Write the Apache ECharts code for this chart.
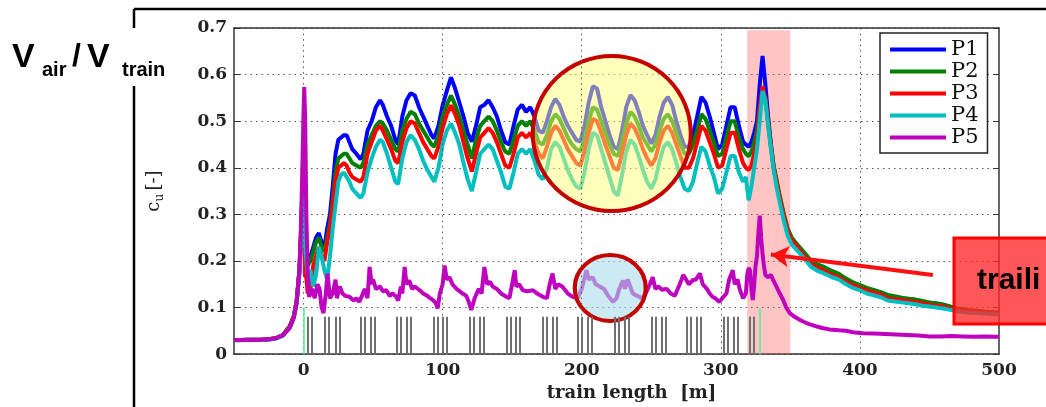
<!DOCTYPE html>
<html>
<head>
<meta charset="utf-8">
<script src="https://cdn.jsdelivr.net/npm/echarts@6/dist/echarts.min.js"></script>
<style>
  html, body { margin: 0; padding: 0; background: #fff; }
  #main { width: 1046px; height: 407px; }
</style>
</head>
<body>
<div id="main"></div>
<script>
// positions along the train [m], shared by P1..P4
const xMain = [
  -50, -40, -30, -25, -20, -15, -10, -7, -5, -3, -2, -1, 0, 1, 2, 3, 5, 7, 9, 11, 13, 15, 17, 19,
  21, 23, 25, 27, 29, 31, 33, 35, 38, 41, 43, 46, 49, 52, 55, 57, 60, 63, 66, 68,
  71, 74, 77, 80, 83, 86, 89, 92, 94, 97, 100, 103, 106, 109, 112, 115, 118, 121, 124, 127,
  130, 133, 136, 139, 142, 145, 148, 151, 154, 157, 160, 163, 166, 169, 172, 175, 178, 181, 184, 187,
  190, 193, 196, 199, 202, 205, 208, 211, 214, 217, 220, 223, 226, 229, 232, 235, 238, 241, 244, 247,
  250, 253, 256, 259, 262, 265, 268, 271, 274, 277, 280, 283, 286, 289, 292, 295, 298, 301, 304, 307,
  310, 313, 316, 318, 320, 322, 324, 326, 328, 330, 332, 334, 336, 338, 340, 342, 345, 348, 351, 355,
  360, 365, 370, 375, 380, 385, 390, 395, 400, 405, 410, 415, 420, 425, 430, 435, 440, 445, 450, 455,
  460, 465, 470, 475, 480, 485, 490, 495, 500
];

const p1 = [
  0.030, 0.031, 0.031, 0.032, 0.034, 0.040, 0.058, 0.080, 0.110, 0.175, 0.240, 0.320, 0.370, 0.250, 0.200, 0.190, 0.210, 0.230, 0.250, 0.260, 0.240, 0.230, 0.270, 0.300,
  0.360, 0.430, 0.460, 0.465, 0.470, 0.470, 0.455, 0.440, 0.430, 0.418, 0.430, 0.480, 0.500, 0.530, 0.545, 0.535, 0.510, 0.490, 0.460, 0.450,
  0.510, 0.545, 0.560, 0.555, 0.530, 0.510, 0.490, 0.470, 0.463, 0.490, 0.534, 0.565, 0.594, 0.570, 0.540, 0.510, 0.475, 0.456, 0.490, 0.530,
  0.535, 0.545, 0.530, 0.510, 0.480, 0.455, 0.450, 0.490, 0.525, 0.535, 0.520, 0.530, 0.510, 0.480, 0.475, 0.500, 0.530, 0.548, 0.535, 0.510,
  0.490, 0.475, 0.460, 0.456, 0.490, 0.540, 0.575, 0.570, 0.530, 0.500, 0.470, 0.445, 0.440, 0.480, 0.530, 0.556, 0.545, 0.520, 0.490, 0.470,
  0.452, 0.470, 0.510, 0.540, 0.552, 0.535, 0.500, 0.470, 0.445, 0.445, 0.470, 0.510, 0.552, 0.540, 0.510, 0.475, 0.440, 0.450, 0.490, 0.530,
  0.530, 0.490, 0.456, 0.450, 0.445, 0.455, 0.475, 0.500, 0.580, 0.640, 0.580, 0.510, 0.450, 0.400, 0.370, 0.340, 0.300, 0.265, 0.245, 0.232,
  0.215, 0.197, 0.190, 0.184, 0.178, 0.170, 0.160, 0.152, 0.147, 0.140, 0.136, 0.132, 0.125, 0.122, 0.120, 0.118, 0.116, 0.113, 0.110, 0.108,
  0.106, 0.102, 0.097, 0.095, 0.093, 0.092, 0.090, 0.089, 0.088
];
const p2 = [
  0.030, 0.031, 0.031, 0.032, 0.034, 0.041, 0.060, 0.082, 0.115, 0.180, 0.250, 0.340, 0.385, 0.300, 0.220, 0.190, 0.200, 0.220, 0.240, 0.250, 0.230, 0.220, 0.250, 0.280,
  0.330, 0.390, 0.420, 0.425, 0.430, 0.430, 0.420, 0.410, 0.405, 0.400, 0.410, 0.450, 0.470, 0.490, 0.500, 0.495, 0.480, 0.460, 0.440, 0.435,
  0.480, 0.505, 0.520, 0.515, 0.495, 0.480, 0.465, 0.450, 0.445, 0.470, 0.510, 0.535, 0.555, 0.535, 0.510, 0.480, 0.450, 0.420, 0.460, 0.490,
  0.500, 0.510, 0.500, 0.480, 0.455, 0.435, 0.430, 0.460, 0.490, 0.500, 0.490, 0.500, 0.480, 0.455, 0.450, 0.470, 0.500, 0.515, 0.505, 0.485,
  0.465, 0.450, 0.440, 0.435, 0.460, 0.500, 0.530, 0.525, 0.500, 0.475, 0.450, 0.430, 0.425, 0.455, 0.495, 0.520, 0.510, 0.490, 0.465, 0.450,
  0.435, 0.450, 0.480, 0.505, 0.515, 0.500, 0.475, 0.450, 0.430, 0.430, 0.450, 0.480, 0.515, 0.505, 0.480, 0.455, 0.425, 0.430, 0.465, 0.500,
  0.500, 0.465, 0.440, 0.430, 0.425, 0.435, 0.455, 0.480, 0.530, 0.565, 0.550, 0.500, 0.450, 0.405, 0.375, 0.345, 0.305, 0.270, 0.250, 0.235,
  0.218, 0.200, 0.192, 0.186, 0.178, 0.172, 0.162, 0.154, 0.148, 0.142, 0.138, 0.133, 0.127, 0.124, 0.121, 0.119, 0.117, 0.114, 0.111, 0.109,
  0.106, 0.102, 0.098, 0.096, 0.094, 0.093, 0.091, 0.090, 0.089
];
const p3 = [
  0.030, 0.031, 0.031, 0.032, 0.034, 0.040, 0.059, 0.081, 0.112, 0.178, 0.245, 0.320, 0.360, 0.170, 0.165, 0.130, 0.140, 0.190, 0.210, 0.230, 0.210, 0.200, 0.240, 0.270,
  0.320, 0.370, 0.400, 0.405, 0.410, 0.405, 0.390, 0.380, 0.375, 0.370, 0.380, 0.430, 0.455, 0.480, 0.490, 0.480, 0.460, 0.440, 0.415, 0.410,
  0.455, 0.485, 0.500, 0.495, 0.475, 0.455, 0.440, 0.425, 0.420, 0.445, 0.485, 0.515, 0.534, 0.515, 0.490, 0.455, 0.420, 0.392, 0.430, 0.465,
  0.475, 0.485, 0.475, 0.455, 0.430, 0.405, 0.400, 0.430, 0.465, 0.475, 0.465, 0.475, 0.455, 0.430, 0.420, 0.445, 0.475, 0.490, 0.480, 0.460,
  0.440, 0.425, 0.410, 0.405, 0.435, 0.475, 0.505, 0.500, 0.475, 0.450, 0.425, 0.400, 0.395, 0.430, 0.470, 0.495, 0.485, 0.465, 0.440, 0.420,
  0.405, 0.420, 0.455, 0.480, 0.490, 0.475, 0.450, 0.425, 0.400, 0.400, 0.420, 0.455, 0.490, 0.480, 0.455, 0.430, 0.400, 0.405, 0.440, 0.475,
  0.475, 0.440, 0.410, 0.400, 0.395, 0.405, 0.430, 0.460, 0.530, 0.575, 0.550, 0.495, 0.445, 0.400, 0.370, 0.340, 0.300, 0.265, 0.245, 0.230,
  0.210, 0.192, 0.185, 0.178, 0.170, 0.165, 0.155, 0.148, 0.142, 0.137, 0.132, 0.128, 0.120, 0.118, 0.116, 0.114, 0.112, 0.109, 0.106, 0.104,
  0.102, 0.098, 0.095, 0.093, 0.092, 0.091, 0.089, 0.088, 0.087
];
const p4 = [
  0.029, 0.030, 0.030, 0.031, 0.033, 0.039, 0.056, 0.078, 0.108, 0.170, 0.230, 0.300, 0.340, 0.235, 0.200, 0.170, 0.180, 0.145, 0.170, 0.230, 0.210, 0.180, 0.160, 0.210,
  0.270, 0.320, 0.370, 0.385, 0.390, 0.380, 0.370, 0.355, 0.345, 0.335, 0.345, 0.390, 0.420, 0.445, 0.460, 0.455, 0.430, 0.400, 0.370, 0.365,
  0.420, 0.455, 0.470, 0.460, 0.440, 0.415, 0.395, 0.380, 0.370, 0.400, 0.450, 0.480, 0.495, 0.475, 0.450, 0.410, 0.375, 0.350, 0.390, 0.430,
  0.440, 0.450, 0.440, 0.415, 0.390, 0.360, 0.355, 0.390, 0.430, 0.440, 0.430, 0.440, 0.415, 0.385, 0.375, 0.400, 0.440, 0.455, 0.445, 0.420,
  0.395, 0.375, 0.360, 0.355, 0.390, 0.440, 0.475, 0.470, 0.440, 0.410, 0.380, 0.350, 0.340, 0.385, 0.435, 0.460, 0.450, 0.425, 0.395, 0.370,
  0.355, 0.375, 0.415, 0.445, 0.455, 0.440, 0.410, 0.380, 0.355, 0.350, 0.370, 0.410, 0.445, 0.435, 0.405, 0.380, 0.345, 0.355, 0.390, 0.425,
  0.425, 0.390, 0.370, 0.380, 0.330, 0.360, 0.400, 0.440, 0.500, 0.565, 0.545, 0.490, 0.440, 0.395, 0.360, 0.330, 0.290, 0.255, 0.235, 0.222,
  0.205, 0.187, 0.178, 0.172, 0.165, 0.160, 0.150, 0.142, 0.137, 0.130, 0.126, 0.122, 0.115, 0.113, 0.111, 0.109, 0.107, 0.104, 0.102, 0.100,
  0.098, 0.095, 0.092, 0.090, 0.089, 0.088, 0.087, 0.086, 0.085
];

// P5 has its own sampling (spiky signal)
const xP5 = [
  -50, -40, -30, -25, -20, -15, -10, -7, -5, -3,
  -2, -1, 0, 0.5, 1.2, 2, 3, 4, 6, 8,
  10, 11.5, 13, 14.4, 16, 17.3, 19, 21, 23, 24,
  26, 28, 30, 33, 36, 38, 40, 42, 44, 46,
  47.5, 49, 50, 52, 55, 57, 59.5, 62, 64, 66.7,
  68, 70, 71, 72.7, 74, 76, 78, 80, 83.5, 86,
  89, 91, 93, 95, 96.4, 98, 100, 101.4, 103, 105,
  107, 110, 114.4, 117, 119, 120.6, 123, 126, 128, 130,
  132, 134, 136, 139, 142, 145.8, 148, 150, 151.8, 153,
  155, 157.6, 161, 164.9, 168, 172, 175, 177, 179, 181,
  183, 186, 190, 193.5, 197, 200, 203.4, 205, 208, 210,
  213, 216, 219, 222.5, 225, 227, 229.6, 231, 233, 236.7,
  240, 243, 246, 249, 251, 253, 255, 258, 261, 264,
  267, 269, 270.5, 273, 275, 277, 280, 282, 285, 287,
  290, 292, 294, 296, 299, 301, 304, 306, 308.6, 310,
  312, 313.7, 316, 318, 319, 320, 321, 322, 323, 324,
  325, 326, 327, 328, 329, 330, 331, 332, 334, 336,
  337.5, 340, 342.4, 345, 347, 349.6, 353, 356, 359, 363,
  368, 373, 378, 385, 390, 395, 402, 410, 418, 426,
  434, 442, 450, 458, 466, 474, 482, 490, 498, 500
];
const p5 = [
  0.030, 0.030, 0.031, 0.032, 0.034, 0.040, 0.056, 0.078, 0.110, 0.180,
  0.260, 0.380, 0.520, 0.573, 0.500, 0.300, 0.170, 0.123, 0.140, 0.120,
  0.150, 0.140, 0.100, 0.088, 0.130, 0.173, 0.120, 0.130, 0.160, 0.120,
  0.145, 0.130, 0.125, 0.123, 0.115, 0.120, 0.112, 0.125, 0.140, 0.120,
  0.187, 0.150, 0.160, 0.140, 0.145, 0.135, 0.137, 0.125, 0.130, 0.123,
  0.115, 0.145, 0.130, 0.187, 0.150, 0.158, 0.140, 0.145, 0.137, 0.130,
  0.125, 0.120, 0.116, 0.110, 0.098, 0.130, 0.150, 0.190, 0.160, 0.165,
  0.150, 0.140, 0.130, 0.125, 0.110, 0.095, 0.120, 0.140, 0.130, 0.187,
  0.150, 0.155, 0.145, 0.140, 0.130, 0.123, 0.120, 0.150, 0.180, 0.145,
  0.150, 0.137, 0.135, 0.137, 0.130, 0.123, 0.120, 0.150, 0.173, 0.140,
  0.150, 0.145, 0.130, 0.123, 0.120, 0.140, 0.180, 0.160, 0.165, 0.150,
  0.145, 0.140, 0.125, 0.112, 0.120, 0.140, 0.158, 0.140, 0.160, 0.130,
  0.125, 0.120, 0.130, 0.150, 0.165, 0.140, 0.145, 0.138, 0.140, 0.130,
  0.125, 0.140, 0.150, 0.170, 0.160, 0.150, 0.159, 0.160, 0.173, 0.150,
  0.140, 0.130, 0.123, 0.120, 0.112, 0.120, 0.130, 0.160, 0.180, 0.150,
  0.160, 0.138, 0.120, 0.130, 0.170, 0.185, 0.180, 0.140, 0.116, 0.150,
  0.190, 0.210, 0.260, 0.297, 0.250, 0.215, 0.190, 0.170, 0.165, 0.170,
  0.160, 0.145, 0.130, 0.115, 0.100, 0.088, 0.080, 0.075, 0.070, 0.065,
  0.060, 0.056, 0.053, 0.051, 0.050, 0.047, 0.045, 0.044, 0.043, 0.042,
  0.041, 0.040, 0.038, 0.038, 0.039, 0.038, 0.037, 0.038, 0.037, 0.037
];

// axle positions (bogie markers) and train nose / tail
const bogieX = [
  3.1, 6.0, 15.1, 18.0, 22.8, 25.7, 40.8, 43.7, 48.0, 50.9,
  67.1, 70.0, 73.9, 76.8, 93.8, 96.6, 100.2, 103.1, 119.4, 122.3,
  126.6, 129.5, 145.8, 148.7, 152.5, 155.4, 172.2, 175.1, 179.0, 181.8,
  197.4, 200.2, 204.5, 207.4, 223.7, 226.6, 230.9, 233.8, 250.1, 253.0,
  257.3, 260.2, 275.8, 278.7, 283.0, 285.8, 302.4, 305.3, 309.4, 312.2,
  320.9, 323.7
];
const bogieTop = 0.08;
const trainEnds = [0, 328];
const trainEndTop = 0.1;

const xGridVals = [0, 100, 200, 300, 400];
const xTickLabels = [0, 100, 200, 300, 400, 500];
const seriesNames = ['P1', 'P2', 'P3', 'P4', 'P5'];
const seriesColors = ['#0000ff', '#008000', '#ff0000', '#00bfbf', '#bf00bf'];

// annotations, in data units
const tailZone = [319, 350];
const zoomCircle = [221.6, 0.4735];
const wakeCircle = [220.5, 0.142];
const arrowFrom = [452.5, 0.17];
const arrowTo = [336, 0.214];

const zip = (xs, ys) => xs.map((x, i) => [x, ys[i]]);
const serif = 'DejaVu Serif';

const chart = echarts.init(document.getElementById('main'));

const lineSeries = [p1, p2, p3, p4].map((vals, i) => ({
  name: seriesNames[i],
  type: 'line',
  data: zip(xMain, vals),
  showSymbol: false,
  symbol: 'none',
  lineStyle: { width: 4, color: seriesColors[i] },
  itemStyle: { color: seriesColors[i] },
  z: 2 + i * 0.1,
  silent: true
}));
lineSeries.push({
  name: 'P5',
  type: 'line',
  data: zip(xP5, p5),
  showSymbol: false,
  symbol: 'none',
  lineStyle: { width: 4, color: seriesColors[4] },
  itemStyle: { color: seriesColors[4] },
  z: 2.5,
  silent: true
});

const option = {
  animation: false,
  backgroundColor: '#fff',
  grid: { left: 234, right: 47, top: 28, bottom: 49 },
  legend: {
    data: seriesNames,
    orient: 'vertical',
    left: 880,
    top: 33,
    icon: 'rect',
    itemWidth: 56,
    itemHeight: 4,
    itemGap: 1,
    padding: [6, 9, 5, 10],
    backgroundColor: '#fff',
    borderColor: '#222',
    borderWidth: 1.5,
    borderRadius: 0,
    textStyle: { fontFamily: serif, fontSize: 21, color: '#111', lineHeight: 18 },
    z: 10
  },
  xAxis: [{
    type: 'value',
    min: -50,
    max: 500,
    interval: 50,
    position: 'bottom',
    axisLine: { show: true, onZero: false, lineStyle: { color: '#333', width: 1.5 } },
    axisTick: { show: false },
    axisLabel: {
      fontFamily: serif, fontSize: 17, fontWeight: 'bold', color: '#222', margin: 8,
      formatter: v => (xTickLabels.indexOf(v) >= 0 ? String(v) : '')
    },
    splitLine: { show: false },
    name: 'train length  [m]',
    nameLocation: 'middle',
    nameGap: 24,
    nameTextStyle: { fontFamily: serif, fontSize: 18, fontWeight: 'bold', color: '#222', padding: [0, 0, 0, 30] }
  }, {
    type: 'value',
    min: -50,
    max: 500,
    interval: 50,
    position: 'top',
    axisLine: { show: true, onZero: false, lineStyle: { color: '#333', width: 1.5 } },
    axisTick: { show: false },
    axisLabel: { show: false },
    splitLine: { show: false }
  }],
  yAxis: [{
    type: 'value',
    min: 0,
    max: 0.7,
    interval: 0.1,
    position: 'left',
    axisLine: { show: true, onZero: false, lineStyle: { color: '#333', width: 1.5 } },
    axisTick: { show: true, inside: true, length: 6, lineStyle: { color: '#333' } },
    axisLabel: {
      fontFamily: serif, fontSize: 17, fontWeight: 'bold', color: '#222', margin: 7,
      formatter: v => (v === 0 ? '0' : v.toFixed(1))
    },
    splitLine: { show: true, lineStyle: { color: '#555', width: 1, type: [1.5, 4] } },
    name: '{c|c}{u|u} {c|[-]}',
    nameLocation: 'middle',
    nameRotate: 90,
    nameGap: 68,
    nameTextStyle: {
      rich: {
        c: { fontFamily: serif, fontSize: 18, color: '#222', lineHeight: 24, verticalAlign: 'middle' },
        u: { fontFamily: serif, fontSize: 12, color: '#222', lineHeight: 12, verticalAlign: 'bottom' }
      }
    }
  }, {
    type: 'value',
    min: 0,
    max: 0.7,
    interval: 0.1,
    position: 'right',
    axisLine: { show: true, onZero: false, lineStyle: { color: '#333', width: 1.5 } },
    axisTick: { show: true, inside: true, length: 6, lineStyle: { color: '#333' } },
    axisLabel: { show: false },
    splitLine: { show: false }
  }],
  series: [
    {
      // vertical dotted grid, bogie markers and nose/tail markers
      type: 'line',
      data: [],
      silent: true,
      z: 1,
      markLine: {
        silent: true,
        symbol: ['none', 'none'],
        label: { show: false },
        animation: false,
        data: [
          ...xGridVals.map(v => ({ xAxis: v, lineStyle: { color: '#555', width: 1, type: [1.5, 4] } })),
          ...bogieX.map(v => [
            { coord: [v, 0], lineStyle: { color: '#707070', width: 2, type: 'solid' } },
            { coord: [v, bogieTop] }
          ]),
          ...trainEnds.map(v => [
            { coord: [v, 0], lineStyle: { color: '#55ee99', width: 1.6, type: 'solid' } },
            { coord: [v, trainEndTop] }
          ])
        ]
      }
    },
    ...lineSeries,
    {
      // shaded tail zone
      type: 'line',
      data: [],
      silent: true,
      z: 3,
      markArea: {
        silent: true,
        itemStyle: { color: 'rgba(255, 80, 80, 0.33)' },
        data: [[{ coord: [tailZone[0], 0] }, { coord: [tailZone[1], 0.695] }]]
      }
    },
    {
      type: 'scatter',
      data: [zoomCircle],
      symbol: 'circle',
      symbolSize: [158, 155],
      silent: true,
      z: 4,
      itemStyle: { color: 'rgba(255, 255, 120, 0.5)', borderColor: '#c40000', borderWidth: 4, opacity: 1 }
    },
    {
      type: 'scatter',
      data: [wakeCircle],
      symbol: 'circle',
      symbolSize: [71, 66],
      silent: true,
      z: 4,
      itemStyle: { color: 'rgba(170, 220, 232, 0.6)', borderColor: '#c40000', borderWidth: 4, opacity: 1 }
    },
    {
      // arrow pointing at the tail peak
      type: 'line',
      data: [],
      silent: true,
      z: 6,
      markLine: {
        silent: true,
        symbol: ['none', 'arrow'],
        symbolSize: [16, 18],
        label: { show: false },
        lineStyle: { color: '#ff1010', width: 4, type: 'solid' },
        data: [[{ coord: arrowFrom }, { coord: arrowTo }]]
      }
    }
  ],
  graphic: [
    // outer frame of the slide
    { type: 'line', shape: { x1: 134, y1: 9, x2: 1046, y2: 9 }, style: { stroke: '#000', lineWidth: 2.5 }, z: 20, silent: true },
    { type: 'line', shape: { x1: 134, y1: 9, x2: 134, y2: 28 }, style: { stroke: '#000', lineWidth: 2.5 }, z: 20, silent: true },
    { type: 'line', shape: { x1: 134, y1: 86, x2: 134, y2: 407 }, style: { stroke: '#000', lineWidth: 2.5 }, z: 20, silent: true },
    // V_air / V_train
    { type: 'text', x: 12, y: 58, z: 20, silent: true,
      style: { text: 'V', font: 'bold 34px "Liberation Sans", Arial, sans-serif', fill: '#000', verticalAlign: 'middle' } },
    { type: 'text', x: 42, y: 70, z: 20, silent: true,
      style: { text: 'air', font: 'bold 20px "Liberation Sans", Arial, sans-serif', fill: '#000', verticalAlign: 'middle' } },
    { type: 'text', x: 72, y: 57, z: 20, silent: true,
      style: { text: '/', font: 'bold 32px "Liberation Sans", Arial, sans-serif', fill: '#000', verticalAlign: 'middle' } },
    { type: 'text', x: 87, y: 58, z: 20, silent: true,
      style: { text: 'V', font: 'bold 34px "Liberation Sans", Arial, sans-serif', fill: '#000', verticalAlign: 'middle' } },
    { type: 'text', x: 122, y: 70, z: 20, silent: true,
      style: { text: 'train', font: 'bold 20px "Liberation Sans", Arial, sans-serif', fill: '#000', verticalAlign: 'middle' } },
    // red call-out box
    { type: 'rect', shape: { x: 954, y: 238, width: 100, height: 86 }, z: 20, silent: true,
      style: { fill: 'rgba(255, 40, 40, 0.78)', stroke: '#ff0000', lineWidth: 3 } },
    { type: 'text', x: 977, y: 281, z: 21, silent: true,
      style: { text: 'traili', font: 'bold 30px "Liberation Sans", Arial, sans-serif', fill: '#000', verticalAlign: 'middle' } }
  ]
};

chart.setOption(option);
</script>
</body>
</html>
